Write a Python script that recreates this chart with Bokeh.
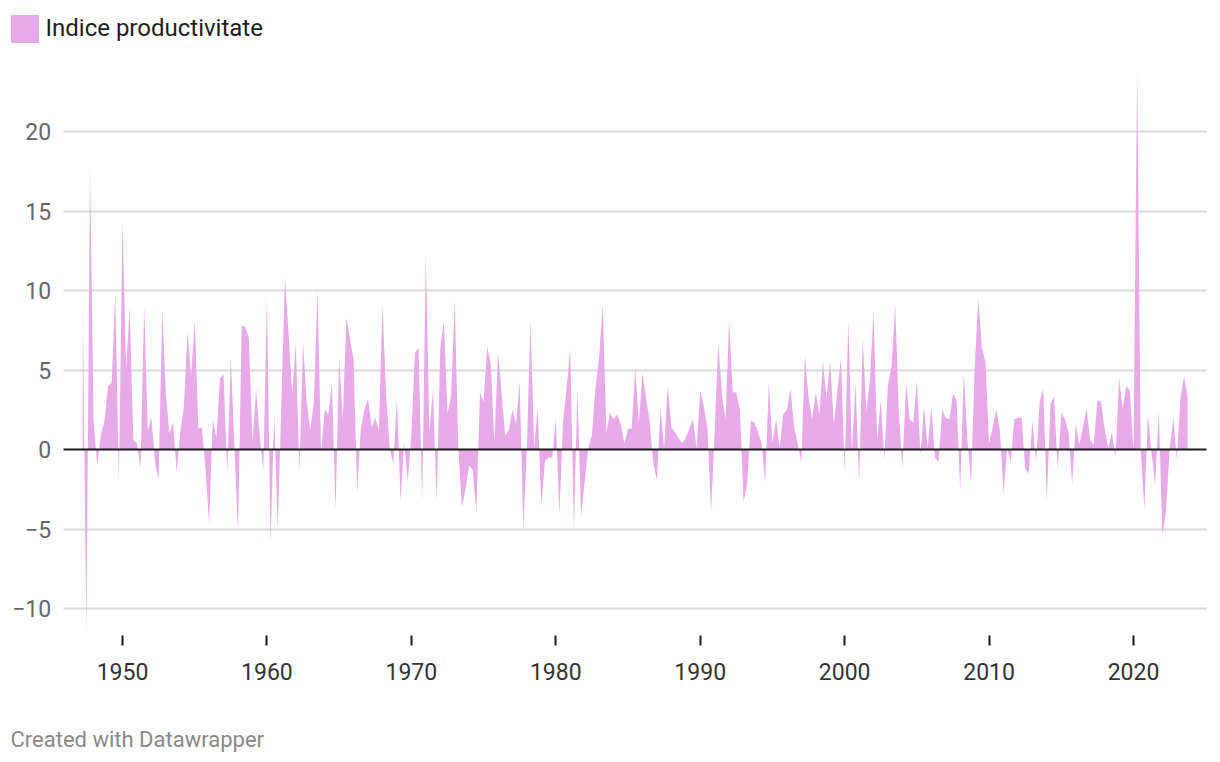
import numpy as np
from bokeh.plotting import figure
from bokeh.models import (Range1d, FixedTicker, Grid, Legend, LegendItem, Label,
                          LinearAxis)
from bokeh.embed import file_html
from bokeh.resources import INLINE

# ---------------- data ----------------
series_name = "Indice productivitate"
first_quarter = 1947.25          # 1947 Q2, quarterly series
productivity = [
    9.0, -11.5, 17.8, 1.8, -1.0, 0.9, 1.8, 4.0, 4.2, 9.9,
    -2.1, 14.4, 5.1, 8.9, 0.6, 0.4, -1.2, 9.1, 1.2, 2.0,
    -0.8, -1.9, 8.8, 3.5, 1.0, 1.7, -1.4, 1.1, 2.7, 7.4,
    4.6, 8.1, 1.3, 1.4, -1.3, -4.7, 1.9, 0.7, 4.5, 4.7,
    -1.5, 5.8, 0.1, -5.3, 7.8, 7.7, 7.0, 0.5, 3.8, 0.9,
    -1.3, 9.6, -6.0, 2.3, -5.1, 3.0, 10.8, 7.3, 3.5, 6.7,
    -1.5, 6.8, 3.0, 1.2, 3.0, 10.1, -0.2, 2.5, 2.2, 4.2,
    -3.8, 5.8, 1.9, 8.3, 7.0, 5.6, -2.7, 1.3, 2.5, 3.2,
    1.4, 2.0, 1.2, 9.1, 3.5, 0.1, -0.9, 3.2, -3.2, 0.4,
    -2.0, 0.9, 6.1, 6.4, -3.5, 12.3, 1.1, 3.8, -3.4, 6.4,
    8.1, 2.3, 3.3, 9.4, 0.1, -3.6, -2.5, -1.0, -1.3, -4.0,
    3.6, 3.0, 6.5, 5.4, 0.4, 6.1, 3.5, 0.9, 1.2, 2.5,
    1.6, 4.3, -5.0, 0.1, 8.2, 0.1, 2.6, -3.6, -0.7, -0.5,
    -0.5, 1.9, -4.1, 1.7, 3.9, 6.3, -5.0, 3.8, -4.2, -2.0,
    0.1, 0.9, 3.9, 5.8, 9.1, 1.1, 2.3, 1.9, 2.2, 1.6,
    0.4, 1.3, 1.3, 5.1, 1.7, 4.8, 3.2, 1.8, -0.9, -1.9,
    2.6, 0.1, 4.0, 1.4, 1.1, 0.7, 0.4, 0.7, 1.3, 1.9,
    0.1, 3.7, 2.7, 1.3, -4.0, 1.1, 6.7, 3.5, 1.9, 8.1,
    3.6, 3.6, 2.5, -3.3, -2.2, 1.8, 1.7, 1.1, 0.4, -2.1,
    4.2, 0.4, 1.9, 0.1, 2.2, 2.5, 3.8, 1.4, 0.4, -0.8,
    5.9, 3.3, 1.9, 3.6, 2.2, 5.5, 3.2, 5.5, 1.6, 3.7,
    5.8, -1.5, 8.2, -0.1, 4.2, -2.1, 7.0, 2.4, 4.4, 8.7,
    0.6, 3.1, -0.6, 4.1, 5.2, 9.1, 2.4, -1.2, 4.2, 1.9,
    1.7, 4.3, -0.3, 2.7, 0.1, 2.7, -0.5, -0.8, 2.5, 2.0,
    1.9, 3.5, 3.1, -2.6, 4.8, 0.6, -2.1, 5.1, 9.5, 6.4,
    5.5, 0.4, 1.4, 2.5, 1.2, -2.8, 0.1, -0.8, 1.9, 2.0,
    2.0, -1.2, -1.5, 1.8, -0.8, 3.0, 3.8, -3.2, 2.9, 3.3,
    -1.3, 2.3, 1.9, 1.1, -2.2, 1.6, 0.3, 1.4, 2.6, 0.6,
    0.3, 3.1, 3.0, 1.3, 0.1, 1.1, -0.5, 4.5, 2.6, 4.0,
    3.7, -0.1, 24.1, 0.0, -3.8, 2.2, -0.3, -2.2, 2.4, -5.4,
    -3.9, 0.0, 2.0, -0.6, 3.2, 4.6, 3.2,
]
x_ticks = [1950, 1960, 1970, 1980, 1990, 2000, 2010, 2020]
y_ticks = [-10, -5, 0, 5, 10, 15, 20]
y_tick_labels = {-10: "\u221210", -5: "\u22125", 0: "0", 5: "5", 10: "10", 15: "15", 20: "20"}
footer_text = "Created with Datawrapper"

quarters = first_quarter + 0.25 * np.arange(len(productivity))

# ---------------- geometry (data-space extents) ----------------
W, H = 1212, 754
X_START, X_END = 1941.553, 2025.469     # full canvas width
Y_START, Y_END = -19.182, 28.239        # full canvas height
AREA_X0, AREA_X1 = 1945.894, 2025.03    # where grid lines run
AREA_Y0 = -11.698                       # bottom of plotting area (x axis position)

FONT = "Roboto"
FILL = "#e8a9e9"

p = figure(width=W, height=H, output_backend="svg", toolbar_location=None,
           x_range=Range1d(X_START, X_END), y_range=Range1d(Y_START, Y_END),
           x_axis_location=None, y_axis_location=None,
           min_border_left=0, min_border_right=0, min_border_top=0, min_border_bottom=0)
p.outline_line_color = None
p.background_fill_color = "white"
p.border_fill_color = "white"
p.xgrid.visible = False
p.ygrid.visible = False

has_cross = "cross_bounds" in Grid.properties()

# horizontal grid lines
grid_ticks = [t for t in y_ticks if t != 0]
if has_cross:
    p.add_layout(Grid(dimension=1, ticker=FixedTicker(ticks=grid_ticks),
                      grid_line_color="#d9d9d9", grid_line_width=2,
                      cross_bounds=(AREA_X0, AREA_X1)))
else:
    p.segment(x0=[AREA_X0] * len(grid_ticks), x1=[AREA_X1] * len(grid_ticks),
              y0=grid_ticks, y1=grid_ticks, line_color="#d9d9d9", line_width=2)

# area
area = p.varea(x=quarters, y1=0, y2=productivity, fill_color=FILL, fill_alpha=1.0)

# zero line
if has_cross:
    p.add_layout(Grid(dimension=1, ticker=FixedTicker(ticks=[0]),
                      grid_line_color="#1a1a1a", grid_line_width=2, level="annotation",
                      cross_bounds=(AREA_X0, AREA_X1)))
else:
    p.segment(x0=[AREA_X0], x1=[AREA_X1], y0=[0], y1=[0], line_color="#1a1a1a", line_width=2)

# y axis (fixed at the left edge of the plotting area)
ya = LinearAxis(fixed_location=AREA_X0, ticker=FixedTicker(ticks=y_ticks))
ya.major_label_overrides = y_tick_labels
ya.axis_line_color = None
ya.major_tick_line_color = None
ya.minor_tick_line_color = None
ya.major_tick_out = 0
ya.major_tick_in = 0
ya.minor_tick_out = 0
ya.major_label_standoff = 12
ya.major_label_text_font = FONT
ya.major_label_text_font_size = "23px"
ya.major_label_text_color = "#666666"
p.add_layout(ya, "left")

# x axis (fixed at the bottom of the plotting area)
xa = LinearAxis(fixed_location=AREA_Y0, ticker=FixedTicker(ticks=x_ticks))
xa.axis_line_color = None
xa.major_tick_in = 0
xa.major_tick_out = 10
xa.major_tick_line_width = 2
xa.major_tick_line_color = "#1a1a1a"
xa.minor_tick_line_color = None
xa.minor_tick_out = 0
xa.major_label_standoff = 17
xa.major_label_text_font = FONT
xa.major_label_text_font_size = "23px"
xa.major_label_text_color = "#333333"
p.add_layout(xa, "below")

# legend (area swatches are inset by 10% of the glyph box)
legend = Legend(items=[LegendItem(label=series_name, renderers=[area])],
                location=(6.5, H - 10.5 - 35), orientation="horizontal",
                glyph_width=35, glyph_height=35, label_height=35,
                padding=0, margin=0, spacing=0, label_standoff=4,
                border_line_color=None, background_fill_alpha=0,
                label_text_font=FONT, label_text_font_size="24px",
                label_text_color="#1d1d1d")
p.add_layout(legend)

# footer
p.add_layout(Label(x=10, y=H - 739, x_units="screen", y_units="screen",
                   text=footer_text, text_font=FONT, text_font_size="22px",
                   text_color="#888888", text_baseline="middle"))

open("out.html", "w").write(file_html(p, INLINE))
